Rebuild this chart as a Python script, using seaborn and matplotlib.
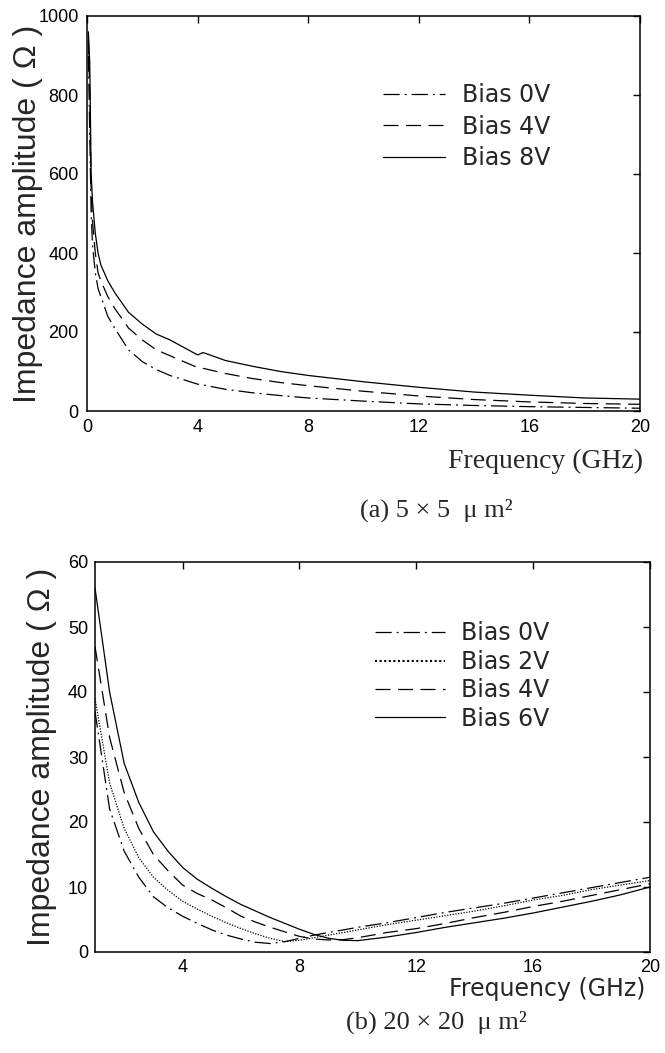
import matplotlib
matplotlib.use("Agg")
import matplotlib.pyplot as plt
import numpy as np
import pandas as pd
import seaborn as sns

# (a) 5x5 um^2 device
freq_a = [0.05, 0.1, 0.15, 0.2, 0.3, 0.4, 0.5, 0.75, 1, 1.5, 2, 2.5, 3, 4, 4.2,
          5, 6, 7, 8, 10, 12, 14, 16, 18, 20]
z_a_0v = [900, 700, 500, 420, 350, 310, 290, 240, 210, 155, 125, 105, 90, 68, 66,
          55, 46, 39, 33, 25, 18, 14, 11, 9, 7]
z_a_4v = [940, 800, 560, 480, 400, 350, 330, 290, 260, 210, 180, 155, 140, 110, 108,
          95, 82, 72, 64, 50, 38, 29, 23, 19, 17]
z_a_8v = [960, 880, 600, 530, 450, 400, 370, 330, 300, 250, 220, 195, 180, 142, 148,
          128, 113, 100, 90, 74, 60, 48, 40, 33, 30]
labels_a = ["Bias 0V", "Bias 4V", "Bias 8V"]

# (b) 20x20 um^2 device
freq_b = [1, 1.5, 2, 2.5, 3, 3.5, 4, 4.5, 5, 5.5, 6, 6.5, 7, 7.5, 8, 8.5, 9, 9.5,
          10, 11, 12, 13, 14, 15, 16, 17, 18, 19, 20]
z_b_0v = [37, 22, 15.5, 11.5, 8.5, 6.8, 5.5, 4.4, 3.4, 2.6, 2.0, 1.5, 1.3, 1.6, 2.1,
          2.6, 3.0, 3.4, 3.8, 4.5, 5.3, 6.1, 6.8, 7.5, 8.3, 9.1, 9.9, 10.7, 11.5]
z_b_2v = [39, 26, 19, 14.5, 11.5, 9.5, 7.8, 6.6, 5.5, 4.5, 3.6, 2.8, 2.1, 1.6, 1.8,
          2.2, 2.6, 3.0, 3.4, 4.2, 4.9, 5.6, 6.3, 7.1, 8.0, 8.7, 9.6, 10.3, 11.0]
z_b_4v = [47, 33, 24.5, 19, 15, 12.5, 10.3, 9, 8, 6.8, 5.5, 4.6, 3.8, 3.1, 2.4,
          2.0, 1.85, 1.9, 2.2, 3.0, 3.6, 4.4, 5.3, 6.1, 7.0, 7.8, 8.7, 9.6, 10.5]
z_b_6v = [56, 40, 29, 23, 18.5, 15.5, 13, 11.2, 9.8, 8.5, 7.3, 6.3, 5.3, 4.4, 3.5,
          2.7, 2.1, 1.8, 1.75, 2.3, 3.0, 3.8, 4.5, 5.2, 6.0, 6.9, 7.8, 8.8, 10.0]
labels_b = ["Bias 0V", "Bias 2V", "Bias 4V", "Bias 6V"]

DASHES = {
    "Bias 0V": (13, 4, 1.5, 4),
    "Bias 2V": (1, 1.2),
    "Bias 4V": (12, 6),
    "Bias 6V": "",
    "Bias 8V": "",
}

SANS = ["Liberation Sans", "DejaVu Sans"]
LEG = ["DejaVu Sans"]
SERIF = ["Liberation Serif", "DejaVu Serif"]


def long_form(freq, series, labels):
    frames = []
    for z, lab in zip(series, labels):
        frames.append(pd.DataFrame({"freq": freq, "z": z, "bias": lab}))
    return pd.concat(frames, ignore_index=True)


def style_axes(ax, pad=6):
    for sp in ax.spines.values():
        sp.set_visible(True)
        sp.set_linewidth(1.1)
        sp.set_color("black")
    ax.tick_params(direction="in", length=5, width=1, top=True, right=True,
                   labelsize=13, pad=pad, colors="black")
    for t in ax.get_xticklabels() + ax.get_yticklabels():
        t.set_fontfamily(SANS)


sns.set_style("white")
plt.rcParams["font.family"] = SANS

fig = plt.figure(figsize=(6.65, 10.53), dpi=100)
ax1 = fig.add_axes([87 / 665, 1 - 411 / 1053, 553 / 665, 395 / 1053])
ax2 = fig.add_axes([95 / 665, 1 - 952 / 1053, 555 / 665, 390 / 1053])

# panel (a)
df_a = long_form(freq_a, [z_a_0v, z_a_4v, z_a_8v], labels_a)
sns.lineplot(data=df_a, x="freq", y="z", style="bias", style_order=labels_a,
             dashes={k: DASHES[k] for k in labels_a}, color="black",
             linewidth=0.9, ax=ax1, sort=False)
ax1.set_xlim(0, 20)
ax1.set_ylim(0, 1000)
ax1.set_xticks(np.arange(0, 21, 4))
ax1.set_yticks(np.arange(0, 1001, 200))
style_axes(ax1)
ax1.set_ylabel("Impedance amplitude ( Ω )", fontsize=23, family=SANS, va="center")
ax1.yaxis.set_label_coords(-0.107, 0.5)
ax1.set_xlabel("Frequency (GHz)", fontsize=20, family=SERIF, ha="right", va="center")
ax1.xaxis.set_label_coords(1.005, -0.127)
h, l = ax1.get_legend_handles_labels()
ax1.legend(h, l, loc="upper left", bbox_to_anchor=(0.535, 0.83), frameon=False,
           borderpad=0, borderaxespad=0, handlelength=2.63, handletextpad=0.72,
           labelspacing=0.32, prop={"family": LEG, "size": 17})

# panel (b)
df_b = long_form(freq_b, [z_b_0v, z_b_2v, z_b_4v, z_b_6v], labels_b)
sns.lineplot(data=df_b, x="freq", y="z", style="bias", style_order=labels_b,
             dashes={k: DASHES[k] for k in labels_b}, color="black",
             linewidth=0.9, ax=ax2, sort=False)
for line in ax2.get_lines():
    if line.get_label() == "Bias 2V":
        line.set_linewidth(1.5)
ax2.set_xlim(1, 20)
ax2.set_ylim(0, 60)
ax2.set_xticks(np.arange(4, 21, 4))
ax2.set_yticks(np.arange(0, 61, 10))
style_axes(ax2, pad=5)
ax2.set_ylabel("Impedance amplitude ( Ω )", fontsize=23, family=SANS, va="center")
ax2.yaxis.set_label_coords(-0.095, 0.5)
ax2.set_xlabel("Frequency (GHz)", fontsize=17, family=LEG, ha="right", va="baseline")
ax2.xaxis.set_label_coords(0.991, -0.112)
h, l = ax2.get_legend_handles_labels()
ax2.legend(h, l, loc="upper left", bbox_to_anchor=(0.505, 0.848), frameon=False,
           borderpad=0, borderaxespad=0, handlelength=2.97, handletextpad=0.64,
           labelspacing=0.19, prop={"family": LEG, "size": 17})

fig.text(436 / 665, 1 - 510 / 1053, "(a) 5 × 5  μ m²", ha="center", va="center",
         fontsize=19, family=SERIF)
fig.text(436 / 665, 1 - 1022 / 1053, "(b) 20 × 20  μ m²", ha="center", va="center",
         fontsize=19, family=SERIF)

fig.savefig("out.png", dpi=100)
